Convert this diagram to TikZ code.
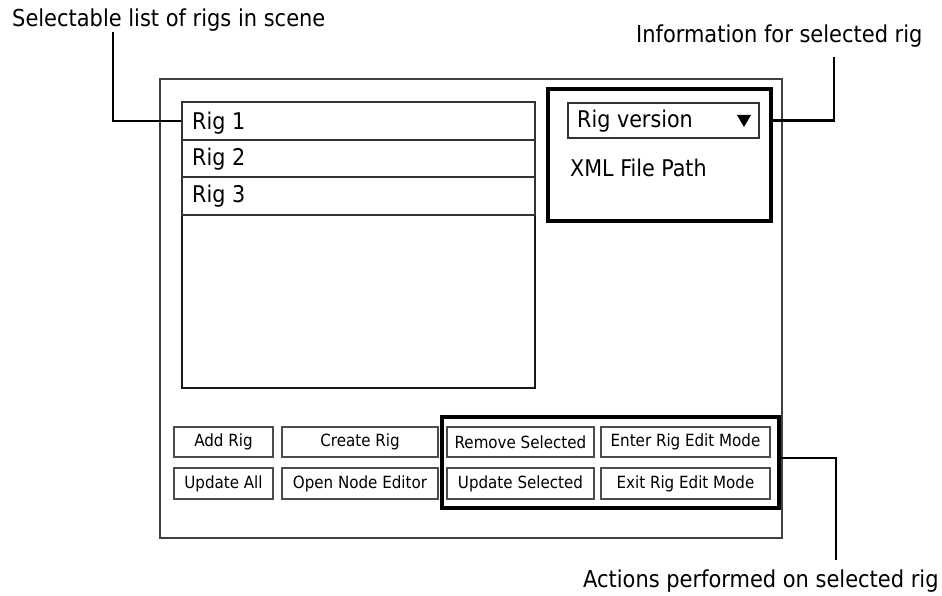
\documentclass[tikz,border=0pt]{standalone}
\usepackage{fontspec}
\setmainfont{DejaVu Sans Condensed}
\begin{document}
\begin{tikzpicture}[x=1pt,y=-1pt,
  panel/.style={draw=black!75,line width=1.5pt,inner sep=0pt},
  listbox/.style={draw=black!90,line width=2pt,inner sep=0pt,minimum width=353pt},
  rowbox/.style={draw=black!80,line width=1.6pt,inner sep=0pt,minimum width=353pt},
  groupbox/.style={draw=black,line width=3.4pt,inner sep=0pt},
  combo/.style={draw=black!80,line width=1.7pt,inner sep=0pt},
  btn/.style={draw=black!70,line width=1.7pt,inner sep=0pt,minimum height=30.5pt,
    font=\fontsize{16.8}{18}\selectfont},
  itemtext/.style={anchor=base west,inner sep=0pt,font=\fontsize{23}{26}\selectfont},
  caption/.style={anchor=base west,inner sep=0pt,font=\fontsize{23.3}{26}\selectfont},
  leader/.style={draw=black,line width=2.3pt}]
\useasboundingbox (0,0) rectangle (942,596);

% window frame
\node[panel,minimum width=622pt,minimum height=459pt] (frame) at (471,308.5) {};

% list of rigs
\node[listbox,minimum height=286pt] (list) at (358.5,245) {};
\node[rowbox,minimum height=38pt] (row1) at (358.5,121) {};
\node[rowbox,minimum height=37pt] (row2) at (358.5,158.5) {};
\node[rowbox,minimum height=38pt] (row3) at (358.5,196) {};
\node[itemtext] (t1) at (192,130) {Rig 1};
\node[itemtext] (t2) at (192,166) {Rig 2};
\node[itemtext] (t3) at (192,202.5) {Rig 3};

% rig information panel
\node[groupbox,minimum width=223pt,minimum height=132pt] (info) at (659.5,155) {};
\node[combo,minimum width=191pt,minimum height=35pt] (dd) at (663.5,120.5) {};
\node[itemtext] (ver) at (577,128) {Rig version};
\fill (737,115) -- (751,115) -- (744,127) -- cycle;
\node[itemtext] (xml) at (570,176.5) {XML File Path};

% buttons
\node[btn,minimum width=99pt] (add) at (223.5,442) {Add Rig};
\node[btn,minimum width=156pt] (create) at (360,442) {Create Rig};
\node[btn,minimum width=99pt] (updall) at (223.5,483.5) {Update All};
\node[btn,minimum width=156pt] (openne) at (360,483.5) {Open Node Editor};

\node[groupbox,minimum width=337pt,minimum height=91pt] (actions) at (610.5,462.5) {};
\node[btn,minimum width=147pt] (remove) at (520.5,442) {Remove Selected};
\node[btn,minimum width=169pt] (enter) at (685.5,442) {Enter Rig Edit Mode};
\node[btn,minimum width=147pt] (updsel) at (520.5,483.5) {Update Selected};
\node[btn,minimum width=169pt] (exitm) at (685.5,483.5) {Exit Rig Edit Mode};

% callouts
\node[caption] (capA) at (12,27) {Selectable list of rigs in scene};
\node[caption] (capB) at (636,43) {Information for selected rig};
\node[caption] (capC) at (583,587) {Actions performed on selected rig};
\coordinate (endA) at (113,32);
\coordinate (endB) at (834,57);
\coordinate (endC) at (836,560);
\draw[leader] (row1.west) -| (endA);
\draw[leader] (info.east |- dd.east) -| (endB);
\draw[leader] (actions.east |- enter.south) -| (endC);
\end{tikzpicture}
\end{document}
